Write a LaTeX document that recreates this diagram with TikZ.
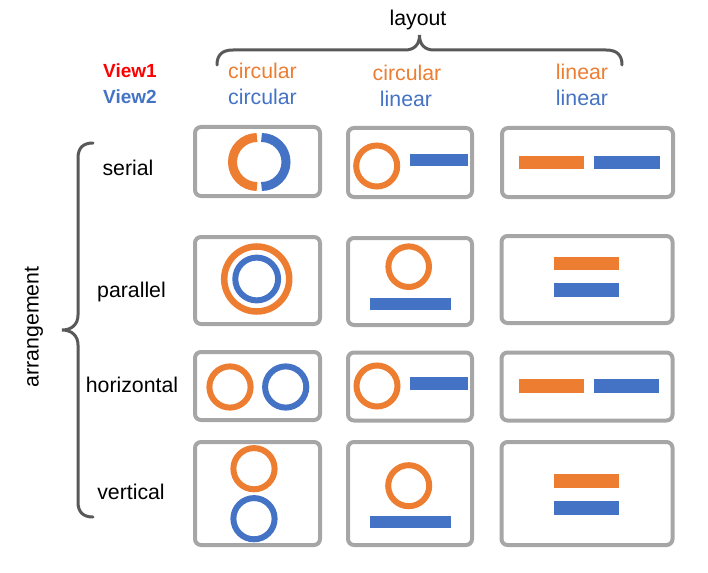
\documentclass[tikz,border=0pt]{standalone}
\usepackage{fontspec}
\setmainfont{Liberation Sans}
\definecolor{vorange}{HTML}{ED7D31}
\definecolor{vblue}{HTML}{4472C4}
\definecolor{frame}{HTML}{A6A6A6}
\definecolor{bracecol}{HTML}{595959}
\definecolor{vred}{HTML}{FF0000}
\tikzset{
  lbl/.style={inner sep=0pt, anchor=base, font=\fontsize{21.3}{24}\selectfont},
  viewlbl/.style={inner sep=0pt, anchor=base, font=\fontsize{19}{22}\selectfont\bfseries},
  cell/.style={draw=frame, line width=4pt, rounded corners=6pt, inner sep=0pt, fill=none},
  brace/.style={draw=bracecol, line width=3pt, line cap=round},
  oring/.style={draw=vorange, line width=6pt},
  bring/.style={draw=vblue, line width=6pt},
  obar/.style={fill=vorange, draw=none},
  bbar/.style={fill=vblue, draw=none},
}
\begin{document}
\begin{tikzpicture}[x=1pt,y=-1pt]
\useasboundingbox (0,0) rectangle (708,572);

% header labels
\node[lbl] (layout) at (418,26) {layout};
\node[viewlbl, text=vred] (view1) at (130,78) {View1};
\node[viewlbl, text=vblue] (view2) at (130,104) {View2};
\node[lbl, text=vorange] (c1a) at (262.5,79) {circular};
\node[lbl, text=vblue] (c1b) at (262.5,104.5) {circular};
\node[lbl, text=vorange] (c2a) at (407,81) {circular};
\node[lbl, text=vblue] (c2b) at (406,107) {linear};
\node[lbl, text=vorange] (c3a) at (582,80) {linear};
\node[lbl, text=vblue] (c3b) at (582,105.5) {linear};

% row labels
\node[lbl] (serial) at (128,175) {serial};
\node[lbl] (parallel) at (131.5,297) {parallel};
\node[lbl] (horizontal) at (132,392) {horizontal};
\node[lbl] (vertical) at (131,499) {vertical};
\node[inner sep=0pt, rotate=90, font=\fontsize{21.3}{24}\selectfont] (arr) at (34,327) {arrangement};

% braces
\draw[brace] (217,65) .. controls (217,55) and (222,50) .. (233,50) -- (405,50)
  .. controls (414,50) and (419.5,45) .. (419.5,35)
  .. controls (419.5,45) and (425,50) .. (434,50) -- (606,50)
  .. controls (617,50) and (622,55) .. (622,65);
\draw[brace] (93,143) .. controls (83,143) and (78,148) .. (78,158) -- (78,315)
  .. controls (78,324) and (72,330) .. (62,330)
  .. controls (72,330) and (78,336) .. (78,345) -- (78,502)
  .. controls (78,512) and (83,517) .. (93,517);

% grid of cells
\node[cell, minimum width=125pt, minimum height=69pt] (b11) at (257.5,161.5) {};
\node[cell, minimum width=124pt, minimum height=69pt] (b12) at (410,162.5) {};
\node[cell, minimum width=171pt, minimum height=69pt] (b13) at (587.5,162.5) {};
\node[cell, minimum width=125pt, minimum height=87pt] (b21) at (257.5,280.5) {};
\node[cell, minimum width=124pt, minimum height=87pt] (b22) at (410,281.5) {};
\node[cell, minimum width=171pt, minimum height=87pt] (b23) at (587,279.5) {};
\node[cell, minimum width=125pt, minimum height=68pt] (b31) at (257.5,386) {};
\node[cell, minimum width=124pt, minimum height=68pt] (b32) at (410,386.5) {};
\node[cell, minimum width=171pt, minimum height=68pt] (b33) at (587,386.5) {};
\node[cell, minimum width=125pt, minimum height=103pt] (b41) at (257.5,493.5) {};
\node[cell, minimum width=124pt, minimum height=103pt] (b42) at (410,493.5) {};
\node[cell, minimum width=171pt, minimum height=103pt] (b43) at (587,493.5) {};

% serial
\draw[draw=vorange, line width=9pt] (257,137.5) arc[start angle=90, end angle=270, radius=24.5pt];
\draw[draw=vblue, line width=9pt] (261.5,137.5) arc[start angle=90, end angle=-90, radius=24.5pt];
\draw[oring] (376.7,166) circle[radius=20.5pt];
\fill[bbar] (410,154) rectangle (468,166);
\fill[obar] (519,156) rectangle (584,169);
\fill[bbar] (594,156) rectangle (660,169);

% parallel
\draw[draw=vorange, line width=6.5pt] (256.7,279) circle[radius=32.5pt];
\draw[bring] (256.7,279) circle[radius=21.4pt];
\draw[oring] (408.7,266.7) circle[radius=20.3pt];
\fill[bbar] (370,298) rectangle (451,310);
\fill[obar] (554,256.7) rectangle (619,270);
\fill[bbar] (554,283) rectangle (619,296.7);

% horizontal
\draw[oring] (230,387) circle[radius=20.6pt];
\draw[bring] (285.7,387) circle[radius=20.6pt];
\draw[oring] (377,386) circle[radius=20.5pt];
\fill[bbar] (410,377) rectangle (468,390);
\fill[obar] (519,379) rectangle (584,392.7);
\fill[bbar] (594,379) rectangle (659,392.7);

% vertical
\draw[oring] (254,468.7) circle[radius=20.6pt];
\draw[bring] (254,518.7) circle[radius=20.6pt];
\draw[oring] (408.7,485.7) circle[radius=20.5pt];
\fill[bbar] (370,516) rectangle (451,528);
\fill[obar] (554,474) rectangle (619,488);
\fill[bbar] (554,501) rectangle (619,514.7);
\end{tikzpicture}
\end{document}
